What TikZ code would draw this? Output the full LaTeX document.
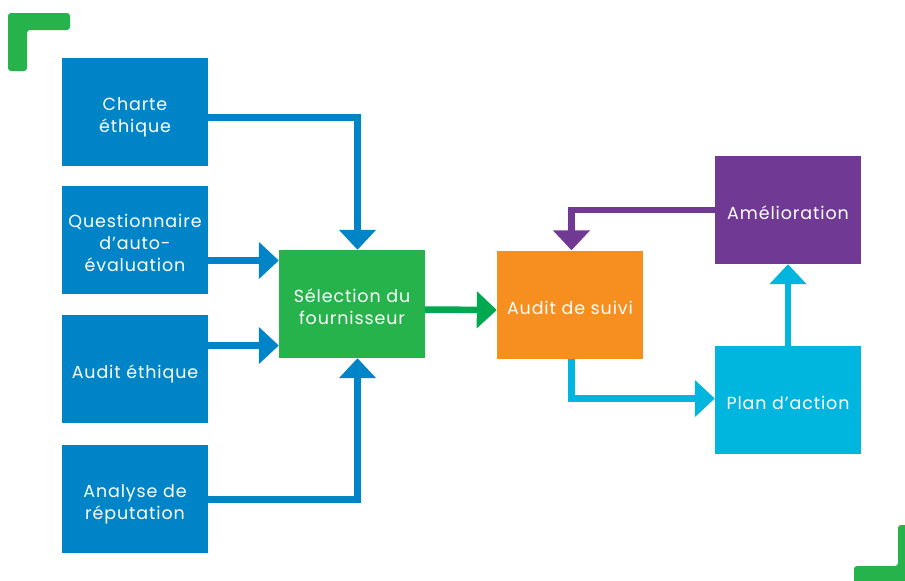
\documentclass[tikz,border=0pt]{standalone}
\usepackage{fontspec}
\setmainfont{Poppins}[LetterSpace=5]
\usetikzlibrary{arrows.meta}
\definecolor{boxblue}{HTML}{0084C8}
\definecolor{boxgreen}{HTML}{26B34B}
\definecolor{flowgreen}{HTML}{00A94F}
\definecolor{boxorange}{HTML}{F68E20}
\definecolor{boxpurple}{HTML}{703A94}
\definecolor{boxcyan}{HTML}{00B6DF}
\tikzset{
  box/.style={
    rectangle,
    minimum width=146pt,
    minimum height=108pt,
    inner sep=0pt,
    text=white,
    align=center,
    font=\fontsize{17.5}{22}\selectfont,
    text height=24pt,
    text depth=5pt
  },
  twolines/.style={text height=46pt},
  threelines/.style={text height=68pt},
  flow/.style={
    draw,
    line width=6.5pt,
    -{Triangle[width=36pt,length=20pt]}
  },
  bracket/.style={
    fill=boxgreen,
    rounded corners=3pt
  }
}

\begin{document}
\begin{tikzpicture}[x=1pt, y=-1pt]
  \useasboundingbox (0,0) rectangle (905,581);
  \fill[bracket] (8,13) -- (70,13) -- (70,30) -- (27,30) -- (27,71) -- (8,71) -- cycle;
  \begin{scope}
    \clip (0,0) rectangle (905,581);
    \fill[bracket] (898,525) -- (915,525) -- (915,595) -- (854,595) -- (854,566) -- (898,566) -- cycle;
  \end{scope}

  \node[box, twolines, fill=boxblue] (charte) at (135,111.5) {Charte\\éthique};
  \node[box, threelines, fill=boxblue] (questionnaire) at (135,240) {Questionnaire\\d’auto-\\évaluation};
  \node[box, fill=boxblue] (auditeth) at (135,369) {Audit éthique};
  \node[box, twolines, fill=boxblue] (analyse) at (135,498.5) {Analyse de\\réputation};
  \node[box, twolines, fill=boxgreen] (selection) at (352,304) {Sélection du\\fournisseur};
  \node[box, fill=boxorange] (suivi) at (570,304.5) {Audit de suivi};
  \node[box, fill=boxpurple] (amelioration) at (788,210) {Amélioration};
  \node[box, fill=boxcyan] (plan) at (788,400) {Plan d’action};

  \draw[flow, boxblue] ([yshift=-6pt]charte.east) -| ([xshift=5.5pt]selection.north);
  \draw[flow, boxblue] ([yshift=-20.5pt]questionnaire.east) -- ([yshift=-20.5pt]questionnaire.east -| selection.west);
  \draw[flow, boxblue] ([yshift=23.5pt]auditeth.east) -- ([yshift=23.5pt]auditeth.east -| selection.west);
  \draw[flow, boxblue] ([yshift=-1pt]analyse.east) -| ([xshift=5.5pt]selection.south);
  \draw[flow, flowgreen] ([yshift=-5.5pt]selection.east) -- ([yshift=-5.5pt]suivi.west);
  \draw[flow, boxpurple] (amelioration.west) -| ([xshift=1.5pt]suivi.north);
  \draw[flow, boxcyan] ([xshift=1.5pt]suivi.south) |- ([yshift=1.5pt]plan.west);
  \draw[flow, boxcyan] (plan.north) -- (amelioration.south);
\end{tikzpicture}
\end{document}
